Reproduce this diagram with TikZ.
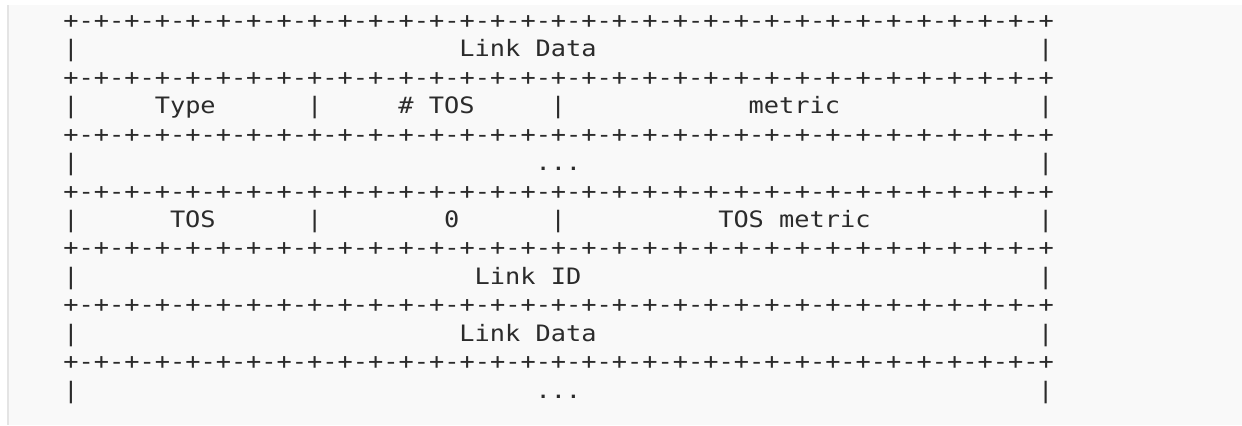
\documentclass[tikz,border=0pt]{standalone}
\usepackage{fontspec}
\usepackage{xcolor}
\newfontfamily\rfcmono[FakeStretch=1.12]{DejaVu Sans Mono}
\definecolor{pagegray}{HTML}{F9F9F9}
\definecolor{edgegray}{HTML}{E4E4E4}
\definecolor{inkgray}{HTML}{2B2B2B}
\newcommand{\bitrule}{+-+-+-+-+-+-+-+-+-+-+-+-+-+-+-+-+-+-+-+-+-+-+-+-+-+-+-+-+-+-+-+-+}

\begin{document}
\begin{tikzpicture}[x=15.23bp, y=-28.47bp,
                cell/.style={anchor=base west, inner sep=0pt, outer sep=0pt, text=inkgray, font=\rfcmono\fontsize{22.6bp}{28bp}\selectfont},
            ]
            \useasboundingbox (-4.163,-0.99) rectangle (77.39,13.94);
            \fill[pagegray] (-3.638,-0.815) rectangle (77.39,13.94);
            \draw[edgegray, line width=1.5bp] (-3.638,-0.815) -- (-3.638,13.94);

            % one line of the packet layout per row, columns counted in characters
            \node[cell] (rule0)   at (0,0)   {\bitrule};
            \node[cell] (barA0)   at (0,1)   {|};
            \node[cell] (data1)   at (26,1)  {Link Data};
            \node[cell] (barA4)   at (64,1)  {|};
            \node[cell] (rule1)   at (0,2)   {\bitrule};
            \node[cell] (barB0)   at (0,3)   {|};
            \node[cell] (type)    at (6,3)   {Type};
            \node[cell] (barB1)   at (16,3)  {|};
            \node[cell] (ntos)    at (22,3)  {\# TOS};
            \node[cell] (barB2)   at (32,3)  {|};
            \node[cell] (metric)  at (45,3)  {metric};
            \node[cell] (barB4)   at (64,3)  {|};
            \node[cell] (rule2)   at (0,4)   {\bitrule};
            \node[cell] (barC0)   at (0,5)   {|};
            \node[cell] (dots1)   at (31,5)  {...};
            \node[cell] (barC4)   at (64,5)  {|};
            \node[cell] (rule3)   at (0,6)   {\bitrule};
            \node[cell] (barD0)   at (0,7)   {|};
            \node[cell] (tos)     at (7,7)   {TOS};
            \node[cell] (barD1)   at (16,7)  {|};
            \node[cell] (zero)    at (25,7)  {0};
            \node[cell] (barD2)   at (32,7)  {|};
            \node[cell] (tosmet)  at (43,7)  {TOS metric};
            \node[cell] (barD4)   at (64,7)  {|};
            \node[cell] (rule4)   at (0,8)   {\bitrule};
            \node[cell] (barE0)   at (0,9)   {|};
            \node[cell] (linkid)  at (27,9)  {Link ID};
            \node[cell] (barE4)   at (64,9)  {|};
            \node[cell] (rule5)   at (0,10)  {\bitrule};
            \node[cell] (barF0)   at (0,11)  {|};
            \node[cell] (data2)   at (26,11) {Link Data};
            \node[cell] (barF4)   at (64,11) {|};
            \node[cell] (rule6)   at (0,12)  {\bitrule};
            \node[cell] (barG0)   at (0,13)  {|};
            \node[cell] (dots2)   at (31,13) {...};
            \node[cell] (barG4)   at (64,13) {|};
        \end{tikzpicture}
\end{document}
